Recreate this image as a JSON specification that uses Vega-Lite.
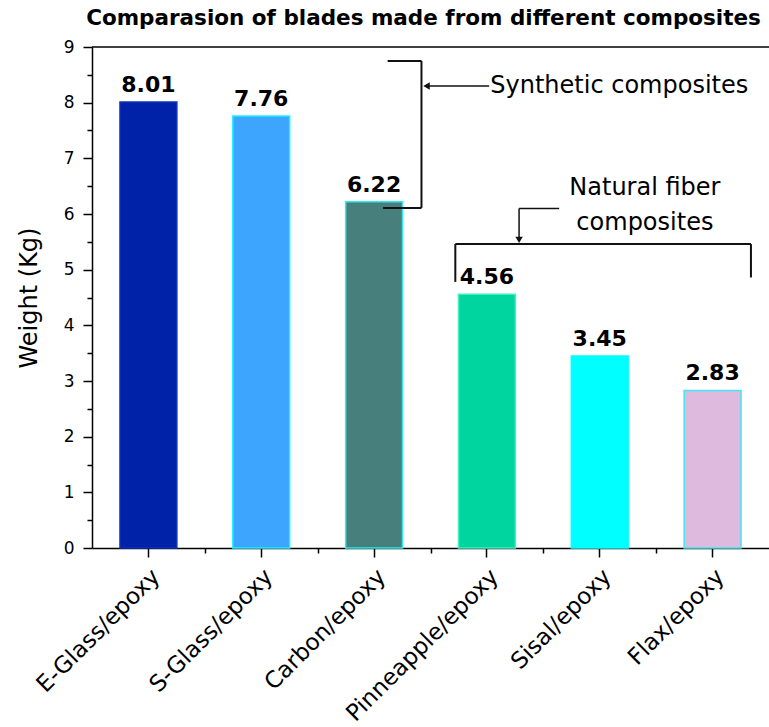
{
  "$schema": "https://vega.github.io/schema/vega-lite/v6.json",
  "width": 677,
  "height": 501,
  "autosize": {"type": "none"},
  "padding": {"left": 92, "top": 47, "right": 0, "bottom": 179},
  "background": "white",
  "title": {
    "text": "Comparasion of blades made from different composites",
    "fontSize": 21.5,
    "fontWeight": "bold",
    "font": "DejaVu Sans",
    "color": "black",
    "anchor": "middle",
    "baseline": "bottom",
    "offset": -13,
    "dx": -7
  },
  "datasets": {
    "blades": [
      {"material": "E-Glass/epoxy", "weight": 8.01},
      {"material": "S-Glass/epoxy", "weight": 7.76},
      {"material": "Carbon/epoxy", "weight": 6.22},
      {"material": "Pinneapple/epoxy", "weight": 4.56},
      {"material": "Sisal/epoxy", "weight": 3.45},
      {"material": "Flax/epoxy", "weight": 2.83}
    ],
    "frame": [
      {"x": 0, "x2": 6, "y": 9, "y2": 9}
    ],
    "brackets": [
      {"x": 2.62, "x2": 2.92, "y": 8.75, "y2": 8.75},
      {"x": 2.92, "x2": 2.92, "y": 8.75, "y2": 6.11},
      {"x": 2.58, "x2": 2.92, "y": 6.11, "y2": 6.11},
      {"x": 3.22, "x2": 5.84, "y": 5.46, "y2": 5.46},
      {"x": 3.22, "x2": 3.22, "y": 5.46, "y2": 4.78},
      {"x": 5.84, "x2": 5.84, "y": 5.46, "y2": 4.86}
    ],
    "arrows": [
      {"x": 2.95, "x2": 3.52, "y": 8.30, "y2": 8.30},
      {"x": 3.785, "x2": 4.14, "y": 6.10, "y2": 6.10},
      {"x": 3.785, "x2": 3.785, "y": 6.10, "y2": 5.52}
    ],
    "heads": [
      {"x": 2.965, "y": 8.30, "dir": "left"},
      {"x": 3.785, "y": 5.535, "dir": "down"}
    ],
    "notesLeft": [
      {"x": 3.53, "y": 8.30, "note": "Synthetic composites"}
    ],
    "notesCenter": [
      {"x": 4.90, "y": 6.46, "note": "Natural fiber"},
      {"x": 4.90, "y": 5.84, "note": "composites"}
    ]
  },
  "config": {
    "font": "DejaVu Sans",
    "view": {"stroke": null},
    "axis": {
      "domainColor": "black",
      "domainWidth": 1.5,
      "tickColor": "black",
      "tickWidth": 1.5,
      "labelColor": "black",
      "titleColor": "black",
      "grid": false
    }
  },
  "layer": [
    {
      "data": {"name": "blades"},
      "encoding": {
        "x": {
          "field": "material",
          "type": "nominal",
          "sort": null,
          "scale": {"paddingInner": 0.496, "paddingOuter": 0.248},
          "axis": {
            "title": null,
            "labelAngle": -45,
            "labelAlign": "right",
            "labelBaseline": "top",
            "labelFontSize": 23,
            "labelLimit": 0,
            "tickSize": 9,
            "labelPadding": 8,
            "labelDx": 10,
            "labelDy": 5
          }
        },
        "y": {
          "field": "weight",
          "type": "quantitative",
          "scale": {"domain": [0, 9], "nice": false},
          "axis": {
            "title": "Weight (Kg)",
            "values": [0, 1, 2, 3, 4, 5, 6, 7, 8, 9],
            "titleFontSize": 24,
            "titleFontWeight": "normal",
            "titlePadding": 22,
            "labelFontSize": 17,
            "tickSize": 9,
            "labelPadding": 9
          }
        }
      },
      "layer": [
        {
          "mark": {"type": "bar", "strokeWidth": 1.5},
          "encoding": {
            "color": {
              "field": "material",
              "type": "nominal",
              "sort": null,
              "scale": {
                "domain": ["E-Glass/epoxy", "S-Glass/epoxy", "Carbon/epoxy", "Pinneapple/epoxy", "Sisal/epoxy", "Flax/epoxy"],
                "range": ["#0022a8", "#3da5fd", "#467f7c", "#00d49f", "#00ffff", "#ddbade"]
              },
              "legend": null
            },
            "stroke": {
              "field": "material",
              "type": "nominal",
              "sort": null,
              "scale": {
                "domain": ["E-Glass/epoxy", "S-Glass/epoxy", "Carbon/epoxy", "Pinneapple/epoxy", "Sisal/epoxy", "Flax/epoxy"],
                "range": ["#1030b8", "#20f0ff", "#30eaf0", "#40f0c0", "#00ffff", "#40e8f0"]
              },
              "legend": null
            }
          }
        },
        {
          "mark": {"type": "text", "fontSize": 22, "fontWeight": "bold", "baseline": "alphabetic", "dy": -10, "color": "black"},
          "encoding": {
            "text": {"field": "weight", "type": "quantitative", "format": ".2f"}
          }
        }
      ]
    },
    {
      "encoding": {
        "x": {
          "field": "x",
          "type": "quantitative",
          "scale": {"domain": [0, 6], "nice": false, "zero": false},
          "axis": {
            "orient": "bottom",
            "values": [1, 2, 3, 4, 5],
            "labels": false,
            "domain": false,
            "tickSize": 5,
            "title": null
          }
        },
        "y": {
          "field": "y",
          "type": "quantitative",
          "scale": {"domain": [0, 9], "nice": false},
          "axis": {
            "orient": "left",
            "values": [0.5, 1.5, 2.5, 3.5, 4.5, 5.5, 6.5, 7.5, 8.5],
            "labels": false,
            "domain": false,
            "tickSize": 5,
            "title": null
          }
        }
      },
      "layer": [
        {
          "data": {"name": "frame"},
          "mark": {"type": "rule", "strokeWidth": 1.5, "color": "black"},
          "encoding": {"x2": {"field": "x2"}, "y2": {"field": "y2"}}
        },
        {
          "data": {"name": "brackets"},
          "mark": {"type": "rule", "strokeWidth": 2, "color": "#111111"},
          "encoding": {"x2": {"field": "x2"}, "y2": {"field": "y2"}}
        },
        {
          "data": {"name": "arrows"},
          "mark": {"type": "rule", "strokeWidth": 1.5, "color": "#111111"},
          "encoding": {"x2": {"field": "x2"}, "y2": {"field": "y2"}}
        },
        {
          "data": {"name": "heads"},
          "mark": {"type": "point", "filled": true, "size": 55, "color": "#111111", "opacity": 1},
          "encoding": {
            "shape": {
              "field": "dir",
              "type": "nominal",
              "scale": {"domain": ["left", "down"], "range": ["triangle-left", "triangle-down"]},
              "legend": null
            }
          }
        },
        {
          "data": {"name": "notesLeft"},
          "mark": {"type": "text", "fontSize": 24, "align": "left", "baseline": "middle", "color": "black"},
          "encoding": {"text": {"field": "note"}}
        },
        {
          "data": {"name": "notesCenter"},
          "mark": {"type": "text", "fontSize": 24, "align": "center", "baseline": "middle", "color": "black"},
          "encoding": {"text": {"field": "note"}}
        }
      ]
    }
  ],
  "resolve": {
    "scale": {"x": "independent"},
    "axis": {"x": "independent", "y": "independent"}
  }
}
